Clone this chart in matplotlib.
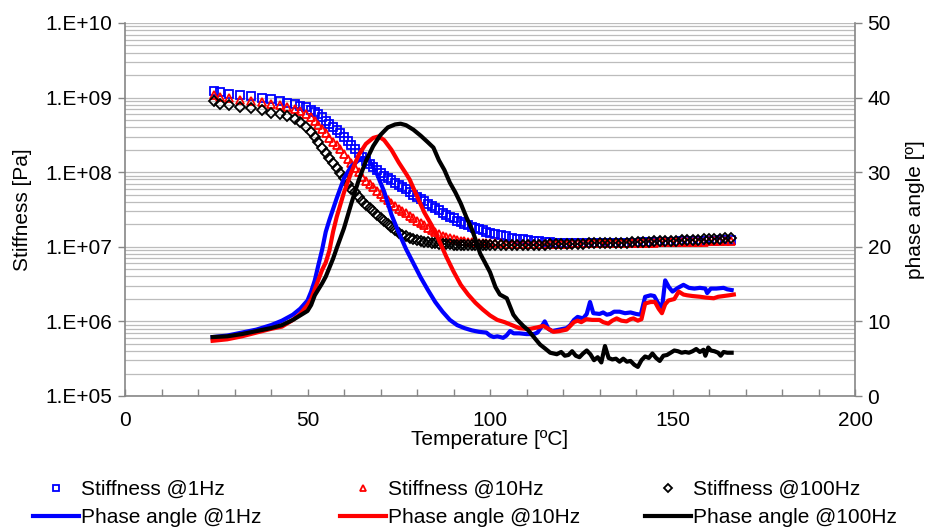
import matplotlib
matplotlib.use("Agg")
import matplotlib.pyplot as plt
from matplotlib.ticker import FixedLocator, FuncFormatter, MultipleLocator, LogLocator, NullFormatter
import numpy as np

plt.rcParams['font.family'] = ['Liberation Sans', 'DejaVu Sans']
plt.rcParams['font.size'] = 15

# ---------------- data ----------------
T_stiff = [24.5, 26, 28.5, 31.5, 34.5, 37.5, 40, 42.5, 44.5, 46.5, 48, 49.5, 51,
           52, 53, 54, 55, 56, 57, 58, 59, 60, 61, 62, 63, 64, 65, 66, 67, 68, 69, 70,
           71, 72, 73, 74, 75, 76, 77, 78, 79, 80, 81, 82, 83, 84, 85, 86, 87, 88, 89, 90,
           91, 92, 93, 94, 95, 96, 97, 98, 99, 100,
           101.5, 103, 104.5, 106, 107.5, 109, 110.5, 112, 113.5, 115, 116.5, 118, 119.5,
           121, 122.5, 124, 125.5, 127, 128.5, 130, 131.5, 133, 134.5, 136, 137.5, 139,
           140.5, 142, 143.5, 145, 146.5, 148, 149.5, 151, 152.5, 154, 155.5, 157, 158.5,
           160, 161.5, 163, 164.5, 166]

stiff_1Hz = [1.23e9, 1.175e9, 1.12e9, 1.10e9, 1.047e9, 1.0e9, 9.55e8, 9.12e8, 8.51e8, 8.13e8, 7.76e8, 7.41e8, 6.92e8,
             6.46e8, 6.03e8, 5.50e8, 4.90e8, 4.47e8, 3.98e8, 3.63e8, 3.31e8, 2.95e8, 2.63e8, 2.34e8, 2.04e8, 1.82e8,
             1.58e8, 1.41e8, 1.29e8, 1.17e8, 1.07e8, 9.77e7, 8.91e7, 8.32e7, 7.76e7, 7.24e7, 6.76e7, 6.31e7, 5.89e7,
             5.37e7, 5.01e7, 4.68e7, 4.37e7, 4.07e7, 3.80e7, 3.55e7, 3.31e7, 3.09e7, 2.88e7, 2.69e7, 2.51e7, 2.40e7,
             2.24e7, 2.14e7, 2.04e7, 1.95e7, 1.86e7, 1.78e7, 1.74e7, 1.66e7, 1.58e7, 1.55e7,
             1.48e7, 1.43e7, 1.38e7, 1.33e7, 1.29e7, 1.26e7, 1.23e7, 1.20e7, 1.18e7, 1.16e7, 1.15e7, 1.14e7, 1.13e7,
             1.12e7, 1.12e7, 1.12e7, 1.12e7, 1.12e7, 1.12e7, 1.12e7, 1.13e7, 1.13e7, 1.13e7, 1.13e7, 1.14e7, 1.14e7,
             1.14e7, 1.15e7, 1.15e7, 1.15e7, 1.16e7, 1.16e7, 1.17e7, 1.17e7, 1.18e7, 1.18e7, 1.19e7, 1.19e7, 1.20e7,
             1.21e7, 1.21e7, 1.22e7, 1.23e7, 1.24e7]

stiff_10Hz = [1.08e9, 1.02e9, 9.77e8, 9.33e8, 9.02e8, 8.71e8, 8.22e8, 7.85e8, 7.41e8, 7.00e8, 6.61e8, 6.10e8, 5.50e8,
              4.90e8, 4.32e8, 3.80e8, 3.31e8, 2.88e8, 2.51e8, 2.29e8, 2.04e8, 1.74e8, 1.51e8, 1.32e8, 1.15e8, 1.00e8,
              8.71e7, 7.59e7, 6.92e7, 6.31e7, 5.62e7, 5.13e7, 4.68e7, 4.27e7, 3.89e7, 3.55e7, 3.24e7, 3.02e7, 2.82e7,
              2.57e7, 2.40e7, 2.24e7, 2.09e7, 1.95e7, 1.80e7, 1.66e7, 1.57e7, 1.48e7, 1.41e7, 1.35e7, 1.30e7, 1.26e7,
              1.23e7, 1.20e7, 1.19e7, 1.175e7, 1.16e7, 1.15e7, 1.135e7, 1.13e7, 1.12e7, 1.12e7,
              1.11e7, 1.11e7, 1.10e7, 1.10e7, 1.10e7, 1.10e7, 1.10e7, 1.10e7, 1.10e7, 1.10e7, 1.10e7, 1.10e7, 1.10e7,
              1.10e7, 1.11e7, 1.11e7, 1.11e7, 1.11e7, 1.11e7, 1.12e7, 1.12e7, 1.12e7, 1.12e7, 1.13e7, 1.13e7, 1.13e7,
              1.13e7, 1.14e7, 1.14e7, 1.14e7, 1.15e7, 1.15e7, 1.15e7, 1.16e7, 1.16e7, 1.16e7, 1.17e7, 1.17e7, 1.17e7,
              1.18e7, 1.18e7, 1.19e7, 1.19e7, 1.19e7]

stiff_100Hz = [8.91e8, 8.32e8, 7.94e8, 7.59e8, 7.24e8, 6.76e8, 6.31e8, 6.03e8, 5.62e8, 5.13e8, 4.68e8, 4.07e8, 3.47e8,
               2.95e8, 2.51e8, 2.14e8, 1.82e8, 1.55e8, 1.32e8, 1.15e8, 9.77e7, 8.32e7, 6.92e7, 6.03e7, 5.37e7, 4.68e7,
               4.17e7, 3.63e7, 3.31e7, 3.02e7, 2.69e7, 2.45e7, 2.24e7, 2.04e7, 1.86e7, 1.70e7, 1.55e7, 1.45e7, 1.38e7,
               1.32e7, 1.26e7, 1.23e7, 1.20e7, 1.175e7, 1.15e7, 1.12e7, 1.11e7, 1.10e7, 1.09e7, 1.08e7, 1.08e7, 1.07e7,
               1.07e7, 1.06e7, 1.06e7, 1.06e7, 1.05e7, 1.05e7, 1.05e7, 1.05e7, 1.05e7, 1.05e7,
               1.05e7, 1.05e7, 1.05e7, 1.05e7, 1.06e7, 1.06e7, 1.06e7, 1.07e7, 1.07e7, 1.07e7, 1.08e7, 1.08e7, 1.09e7,
               1.09e7, 1.09e7, 1.10e7, 1.10e7, 1.11e7, 1.11e7, 1.12e7, 1.12e7, 1.13e7, 1.13e7, 1.14e7, 1.14e7, 1.15e7,
               1.16e7, 1.16e7, 1.17e7, 1.18e7, 1.18e7, 1.19e7, 1.20e7, 1.21e7, 1.22e7, 1.23e7, 1.24e7, 1.25e7, 1.26e7,
               1.27e7, 1.28e7, 1.29e7, 1.30e7, 1.31e7]

T_ph_1Hz = [24, 28, 32, 36, 40, 43, 46, 48, 50, 51, 52, 53, 54, 55, 56, 58, 60, 62, 64, 65.5, 67, 69, 71, 73, 75,
            77, 79, 81, 83, 85, 87, 89, 91, 93, 95, 97, 99, 100, 101, 102, 103.6, 104.5, 105.5, 106.5, 108, 110,
            112, 113, 114, 115, 116, 117, 118, 120, 121, 122, 123, 124, 125.5, 126.5, 127.4, 128.3, 130, 131, 132,
            133, 134, 135.5, 137, 138.5, 140, 141.3, 142.5, 144, 145, 146, 147.1, 148, 149, 150, 151.5, 153, 154.5,
            156, 157.5, 159, 159.5, 160.5, 162, 164, 165, 166.2]
phase_1Hz = [7.9, 8.1, 8.5, 8.9, 9.5, 10.1, 10.9, 11.7, 12.8, 14.0, 15.5, 17.6, 19.6, 22.0, 23.6, 26.5, 29.2, 30.8,
             31.6, 31.9, 31.5, 29.8, 27.4, 24.3, 21.9, 19.7, 17.8, 15.9, 14.2, 12.6, 11.3, 10.2, 9.5, 9.1, 8.8, 8.6,
             8.5, 8.1, 7.9, 8.0, 7.8, 8.1, 8.7, 8.4, 8.4, 8.3, 8.3, 8.5, 9.2, 10.0, 9.0, 8.7, 8.8, 9.0, 9.1, 9.5, 10.2,
             10.6, 10.4, 11.0, 12.6, 11.1, 11.0, 11.2, 10.9, 11.0, 11.3, 11.3, 11.1, 11.2, 11.0, 10.9, 13.3, 13.5,
             13.4, 12.5, 11.7, 15.5, 14.6, 14.0, 14.5, 14.9, 14.5, 14.4, 14.5, 14.4, 13.8, 14.4, 14.4, 14.5, 14.3, 14.2]

T_ph_10Hz = [24, 28, 32, 36, 40, 43, 46, 48, 50, 51, 52, 53, 54, 55, 56, 57, 58, 60, 62, 64, 66, 68, 69.5, 71, 73,
             75, 77, 78, 80, 82, 84, 86, 88, 90, 92, 94, 96, 98, 100, 102, 104, 106, 108, 110, 111, 112, 113, 114.6,
             116, 117.4, 119, 120, 121, 122, 123, 124, 125, 126.4, 128, 130, 131, 132.4, 133.5, 134.7, 136, 137.4,
             138.5, 139.3, 140.5, 141.5, 142.5, 144, 145.2, 146.2, 147.1, 148, 148.9, 150.5, 151.7, 153, 154, 155.5,
             157.6, 159, 161.3, 162.5, 164, 165.5, 166.8]
phase_10Hz = [7.4, 7.6, 8.0, 8.5, 9.0, 9.3, 10.2, 11.0, 12.2, 13.0, 14.3, 15.6, 16.9, 17.9, 19.5, 22.0, 24.0, 27.3,
              30.0, 32.3, 33.8, 34.6, 34.8, 34.3, 33.0, 31.3, 29.8, 29.0, 26.8, 24.6, 22.9, 20.9, 18.7, 16.7, 14.9,
              13.6, 12.5, 11.6, 10.8, 10.2, 9.9, 9.5, 9.1, 9.0, 9.0, 9.1, 9.2, 9.4, 9.0, 8.6, 8.7, 8.8, 8.9, 9.4, 9.9,
              10.1, 9.9, 10.3, 10.2, 10.2, 9.9, 9.7, 10.1, 10.4, 10.1, 10.0, 10.3, 10.4, 10.1, 10.3, 12.4, 12.6, 12.6,
              11.7, 11.1, 12.3, 12.8, 13.0, 14.0, 13.6, 13.5, 13.4, 13.3, 13.2, 13.1, 13.3, 13.4, 13.5, 13.6]

T_ph_100Hz = [24, 28, 32, 36, 40, 43, 46, 48, 50, 51, 52, 53, 54, 55, 56, 57, 58, 60, 62, 64, 66, 68, 70, 72, 74,
              75.5, 77, 79, 81, 83, 84.5, 86, 87.5, 89, 90.5, 92, 93.5, 95, 96.3, 97.3, 98.5, 100, 101.5, 102.7,
              104.6, 105.5, 106.4, 107.5, 109.1, 110.5, 112, 113.7, 115, 116.5, 118.3, 119.5, 120.5, 121.5, 122.5,
              123.5, 124.5, 125.5, 126.5, 127.5, 128.5, 129.5, 130.5, 131.5, 132.5, 133.5, 134.5, 135.5, 136.5,
              137.5, 138.5, 139.5, 140.5, 141.5, 142.5, 143.5, 144.5, 145.5, 146.5, 147.5, 148.5, 149.5, 150.5,
              151.5, 152.5, 153.5, 154.5, 155.5, 156.5, 157.5, 158.5, 159, 159.8, 160.5, 161.5, 162.5, 163.2, 164,
              165, 166.2]
phase_100Hz = [7.9, 8.0, 8.3, 8.7, 9.1, 9.5, 10.2, 10.8, 11.4, 12.2, 13.5, 14.3, 15.1, 16.0, 17.2, 18.4, 19.8, 22.5,
               25.8, 28.9, 31.5, 33.5, 35.0, 36.0, 36.4, 36.5, 36.3, 35.7, 34.9, 34.0, 33.3, 31.6, 30.3, 28.6, 27.3,
               25.8, 24.0, 22.4, 20.6, 19.1, 18.0, 16.6, 14.6, 13.6, 13.1, 12.0, 10.9, 10.2, 9.4, 8.8, 7.9, 6.9, 6.4,
               5.8, 5.6, 5.9, 5.4, 5.5, 6.0, 5.4, 5.2, 5.7, 6.1, 5.6, 4.8, 5.2, 4.5, 6.7, 5.1, 4.9, 5.0, 4.6, 5.0, 4.6,
               4.7, 4.2, 3.9, 4.8, 5.3, 5.1, 5.7, 5.1, 4.7, 5.4, 5.5, 5.8, 6.1, 6.0, 5.8, 5.9, 5.8, 6.0, 6.3, 5.9, 6.2,
               5.4, 6.5, 6.1, 6.0, 5.8, 5.4, 5.9, 5.8, 5.8]

x_major = [0, 50, 100, 150, 200]
y2_ticks = [0, 10, 20, 30, 40, 50]

# ---------------- figure ----------------
W, H = 925, 530
fig = plt.figure(figsize=(W / 100, H / 100), dpi=100)
ax = fig.add_axes([125 / W, 1 - 396 / H, 730 / W, 373 / H])
ax2 = ax.twinx()

spine_c = '#868686'
grid_c = '#bcbcbc'

ax.set_yscale('log')
ax.set_ylim(1e5, 1e10)
ax.set_xlim(0, 200)
ax2.set_ylim(0, 50)

s1, = ax.plot(T_stiff, stiff_1Hz, ls='none', marker='s', ms=5.3, mfc='none', mec='#0000ff', mew=1.3,
              label='Stiffness @1Hz')
s2, = ax.plot(T_stiff, stiff_10Hz, ls='none', marker='^', ms=5.8, mfc='none', mec='#ff0000', mew=1.3,
              label='Stiffness @10Hz')
s3, = ax.plot(T_stiff, stiff_100Hz, ls='none', marker='D', ms=4.8, mfc='none', mec='#000000', mew=1.3,
              label='Stiffness @100Hz')

p1, = ax2.plot(T_ph_1Hz, phase_1Hz, color='#0000ff', lw=3.0, label='Phase angle @1Hz', solid_joinstyle='round')
p2, = ax2.plot(T_ph_10Hz, phase_10Hz, color='#ff0000', lw=3.0, label='Phase angle @10Hz', solid_joinstyle='round')
p3, = ax2.plot(T_ph_100Hz, phase_100Hz, color='#000000', lw=3.0, label='Phase angle @100Hz', solid_joinstyle='round')

# grid
ax.yaxis.set_major_locator(LogLocator(base=10, numticks=10))
ax.yaxis.set_minor_locator(LogLocator(base=10, subs=np.arange(2, 10), numticks=100))
ax.yaxis.set_minor_formatter(NullFormatter())
ax.yaxis.set_major_formatter(FuncFormatter(lambda v, p: "1.E+%02d" % int(round(np.log10(v)))))
ax.yaxis.grid(True, which='both', color=grid_c, lw=0.9)
ax.set_axisbelow(True)

ax.xaxis.set_major_locator(FixedLocator(x_major))
ax.xaxis.set_minor_locator(MultipleLocator(10))
ax2.yaxis.set_major_locator(FixedLocator(y2_ticks))

for a in (ax, ax2):
    a.spines['top'].set_visible(False)
    for s in ('left', 'right', 'bottom'):
        a.spines[s].set_color(spine_c)
        a.spines[s].set_linewidth(1.2)
ax.spines['right'].set_visible(False)
ax2.spines['left'].set_visible(False)
ax2.spines['bottom'].set_visible(False)

ax.tick_params(axis='y', which='major', direction='out', length=5, width=1, color=spine_c, pad=4, labelsize=15)
ax.tick_params(axis='y', which='minor', length=0)
ax.tick_params(axis='x', which='both', direction='in', length=5, width=1, color=spine_c, pad=11, labelsize=15)
ax2.tick_params(axis='y', direction='out', length=5, width=1, color=spine_c, pad=4, labelsize=15)

ax.set_xlabel('Temperature [ºC]', fontsize=15, labelpad=0)
ax.set_ylabel('Stiffness [Pa]', fontsize=15, labelpad=10)
ax2.set_ylabel('phase angle [º]', fontsize=15, labelpad=11)

# legend: three fixed-width columns
col_x = [33, 340, 645]
for cx, pair in zip(col_x, [(s1, p1), (s2, p2), (s3, p3)]):
    fig.legend(handles=list(pair), labels=[h.get_label() for h in pair],
               loc='upper left', bbox_to_anchor=(cx / W, 1 - 480 / H), ncol=1, frameon=False,
               handlelength=2.2, handletextpad=0.1, labelspacing=0.45,
               borderpad=0, borderaxespad=0, fontsize=15, markerscale=0.85)

fig.savefig('out.png', dpi=100)
